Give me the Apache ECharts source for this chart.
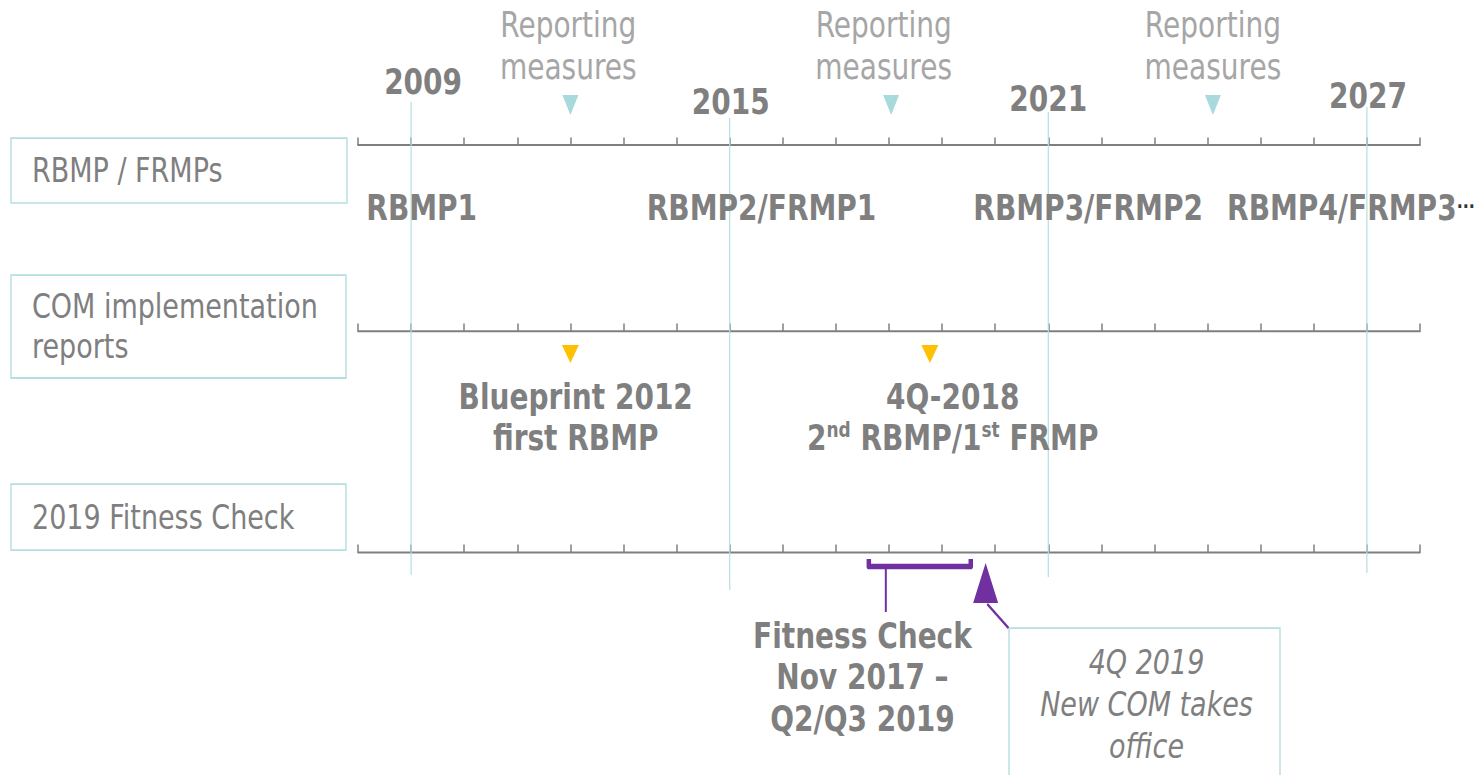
<!DOCTYPE html>
<html>
<head>
<meta charset="utf-8">
<script src="https://cdn.jsdelivr.net/npm/echarts@6/dist/echarts.min.js"></script>
<style>
html, body { margin: 0; padding: 0; background: #fff; overflow: hidden; }
#wrap { width: 1478px; height: 775px; overflow: hidden; position: relative; }
/* the reference is stretched vertically, so draw at 620px tall and stretch */
#main { width: 1478px; height: 620px; transform: scale(1, 1.25); transform-origin: 0 0; }
</style>
</head>
<body>
<div id="wrap"><div id="main"></div></div>
<script>
// ---- data ----
var axisStart = 2008;
var axisEnd = 2028;
var cycleYears = [2009, 2015, 2021, 2027];
var planNames = ["RBMP1", "RBMP2/FRMP1", "RBMP3/FRMP2", "RBMP4/FRMP3"];
var planYears = [2009.2, 2015.6, 2021.75, 2026.7];
var reportingYears = [2012, 2018.04, 2024.1];
var reportingLabelYears = [2011.96, 2017.9, 2024.1];
var comReportYears = [2012, 2018.77];
var comLabelYears = [2012.1, 2019.2];
var comLabels = [
  "Blueprint 2012\nfirst RBMP",
  "{a|4Q-2018}\n{a|2}{s|nd}{a| RBMP/1}{s|st}{a| FRMP}"
];
var fitnessRange = [2017.62, 2019.54];
var fitnessStem = 2017.94;
var fitnessLabelYear = 2017.5;
var fitnessLabel = "Fitness Check\nNov 2017 –\nQ2/Q3 2019";
var newComYear = 2019.82;
var newComLabel = "4Q 2019\nNew COM takes\noffice";
var rowNames = ["RBMP / FRMPs", "COM implementation\nreports", "2019 Fitness Check"];

// ---- layout: y values are rows of the final 775px picture ----
var H = 775;
var SY = 1.25; // vertical stretch
var axisRows = [145, 331, 552];
var guideTop = [102, 118, 112, 107];
var guideBottom = [575, 590, 577, 573];
var yearLabelY = [82, 102, 99, 96];
var yearLabelDx = [12, 1, 0, 1];

var grey = "#7f7f7f";
var light = "#a6a6a6";
var teal = "#b4dfe2";
var purple = "#7030a0";
var font = "DejaVu Sans";

var chart = echarts.init(document.getElementById("main"), null, { renderer: "svg" });

var xAxes = axisRows.map(function (y) {
  return {
    type: "value",
    min: axisStart,
    max: axisEnd,
    interval: 1,
    position: "bottom",
    offset: -(H - y) / SY,
    axisLine: { onZero: false, lineStyle: { color: grey, width: 1.7 } },
    axisTick: { inside: true, length: 6, lineStyle: { color: grey, width: 1.5 } },
    axisLabel: { show: false },
    splitLine: { show: false }
  };
});

var boldLabel = {
  show: true,
  position: "inside",
  color: grey,
  fontFamily: font,
  fontWeight: "bold",
  fontSize: 28,
  lineHeight: 41 / SY
};
var solid = { opacity: 1 };

var series = [];

// vertical guides at each cycle start
cycleYears.forEach(function (yr, i) {
  series.push({
    type: "line",
    data: [[yr, guideTop[i]], [yr, guideBottom[i]]],
    symbol: "none",
    silent: true,
    z: 1,
    lineStyle: { color: teal, width: 1.2 }
  });
});

// year labels
series.push({
  type: "scatter",
  symbolSize: 0,
  itemStyle: solid,
  z: 5,
  data: cycleYears.map(function (yr, i) {
    return { value: [yr, yearLabelY[i]], label: { offset: [yearLabelDx[i], 0] } };
  }),
  label: Object.assign({}, boldLabel, {
    formatter: function (p) { return String(p.value[0]); }
  })
});

// reporting measures
series.push({
  type: "scatter",
  symbol: "triangle",
  symbolRotate: 180,
  symbolSize: [16, 20 / SY],
  itemStyle: { color: "#a8dadd", opacity: 1 },
  data: reportingYears.map(function (yr) { return [yr, 105]; }),
  z: 4
});
series.push({
  type: "scatter",
  symbolSize: 0,
  itemStyle: solid,
  data: reportingLabelYears.map(function (yr) { return [yr, 46]; }),
  label: {
    show: true,
    position: "inside",
    formatter: "Reporting\nmeasures",
    color: light,
    fontFamily: font,
    fontSize: 28,
    lineHeight: 42 / SY
  },
  z: 5
});

// plan cycle labels
series.push({
  type: "scatter",
  symbolSize: 0,
  itemStyle: solid,
  data: planYears.map(function (yr, i) {
    return { value: [yr, 208], name: planNames[i] };
  }),
  label: Object.assign({}, boldLabel, {
    formatter: function (p) {
      return p.dataIndex === planNames.length - 1
        ? "{b|" + p.name + "}{d|...}"
        : "{b|" + p.name + "}";
    },
    rich: {
      b: { color: grey, fontFamily: font, fontWeight: "bold", fontSize: 28, lineHeight: 28 },
      d: { color: "#333", fontFamily: font, fontWeight: "bold", fontSize: 16, verticalAlign: "top", lineHeight: 28, padding: [0, 0, 14, 0] }
    }
  }),
  z: 5
});

// COM implementation reports
series.push({
  type: "scatter",
  symbol: "triangle",
  symbolRotate: 180,
  symbolSize: [17, 18 / SY],
  itemStyle: { color: "#ffc000", opacity: 1 },
  data: comReportYears.map(function (yr) { return [yr, 354]; }),
  z: 4
});
series.push({
  type: "scatter",
  symbolSize: 0,
  itemStyle: solid,
  data: comLabelYears.map(function (yr, i) {
    return { value: [yr, 417], name: comLabels[i] };
  }),
  label: Object.assign({}, boldLabel, {
    formatter: function (p) { return p.name; },
    rich: {
      a: { color: grey, fontFamily: font, fontWeight: "bold", fontSize: 28, lineHeight: 41 / SY },
      s: { color: grey, fontFamily: font, fontWeight: "bold", fontSize: 17, lineHeight: 41 / SY, verticalAlign: "top", padding: [2, 0, 0, 0] }
    }
  }),
  z: 5
});

// fitness check bracket
series.push({
  type: "line",
  data: [
    [fitnessRange[0], 559], [fitnessRange[0], 566.5],
    [fitnessRange[1], 566.5], [fitnessRange[1], 559]
  ],
  symbol: "none",
  silent: true,
  z: 3,
  lineStyle: { color: purple, width: 4.5, join: "round" }
});
series.push({
  type: "line",
  data: [[fitnessStem, 568], [fitnessStem, 612]],
  symbol: "none",
  silent: true,
  z: 3,
  lineStyle: { color: purple, width: 2 }
});
series.push({
  type: "scatter",
  symbolSize: 0,
  itemStyle: solid,
  data: [{ value: [fitnessLabelYear, 677], name: fitnessLabel }],
  label: Object.assign({}, boldLabel, {
    formatter: function (p) { return p.name; },
    lineHeight: 41.5 / SY
  }),
  z: 5
});

// new commission arrow + pointer
series.push({
  type: "line",
  data: [[newComYear + 0.03, 604], [2020.25, 628]],
  symbol: "none",
  silent: true,
  z: 3,
  lineStyle: { color: purple, width: 2 }
});
series.push({
  type: "scatter",
  symbol: "triangle",
  symbolSize: [25, 40 / SY],
  itemStyle: { color: purple, opacity: 1 },
  data: [[newComYear, 583]],
  z: 4
});
series.push({
  type: "scatter",
  symbolSize: 0,
  itemStyle: solid,
  data: [{ value: [2022.85, 704], name: newComLabel }],
  label: {
    show: true,
    position: "inside",
    formatter: function (p) { return p.name; },
    color: grey,
    fontFamily: font,
    fontStyle: "italic",
    fontSize: 27,
    lineHeight: 42 / SY
  },
  z: 5
});

// row label boxes + callout box (pixel rows of the final picture)
var rowBoxes = [
  { x: 11, y: 138, w: 336, h: 65 },
  { x: 11, y: 275, w: 335, h: 103 },
  { x: 11, y: 484, w: 335, h: 66 }
];
var graphics = rowBoxes.map(function (b, i) {
  return {
    type: "group",
    children: [
      {
        type: "rect",
        shape: { x: b.x, y: b.y / SY, width: b.w, height: b.h / SY },
        style: { fill: "#fff", stroke: teal, lineWidth: 1.4 }
      },
      {
        type: "text",
        x: 32,
        y: (b.y + b.h / 2) / SY,
        style: {
          text: rowNames[i],
          fill: grey,
          font: "27px " + font,
          lineHeight: 40 / SY,
          verticalAlign: "middle",
          align: "left"
        }
      }
    ]
  };
});
graphics.push({
  type: "rect",
  z: 0,
  shape: { x: 1009, y: 628 / SY, width: 271, height: 170 / SY },
  style: { fill: "none", stroke: teal, lineWidth: 1.4 }
});

chart.setOption({
  animation: false,
  backgroundColor: "#fff",
  grid: { left: 358, right: 58, top: 0, bottom: 0, containLabel: false, outerBoundsMode: "none" },
  xAxis: xAxes,
  yAxis: { type: "value", min: 0, max: H, inverse: true, show: false },
  graphic: graphics,
  series: series
});
</script>
</body>
</html>
